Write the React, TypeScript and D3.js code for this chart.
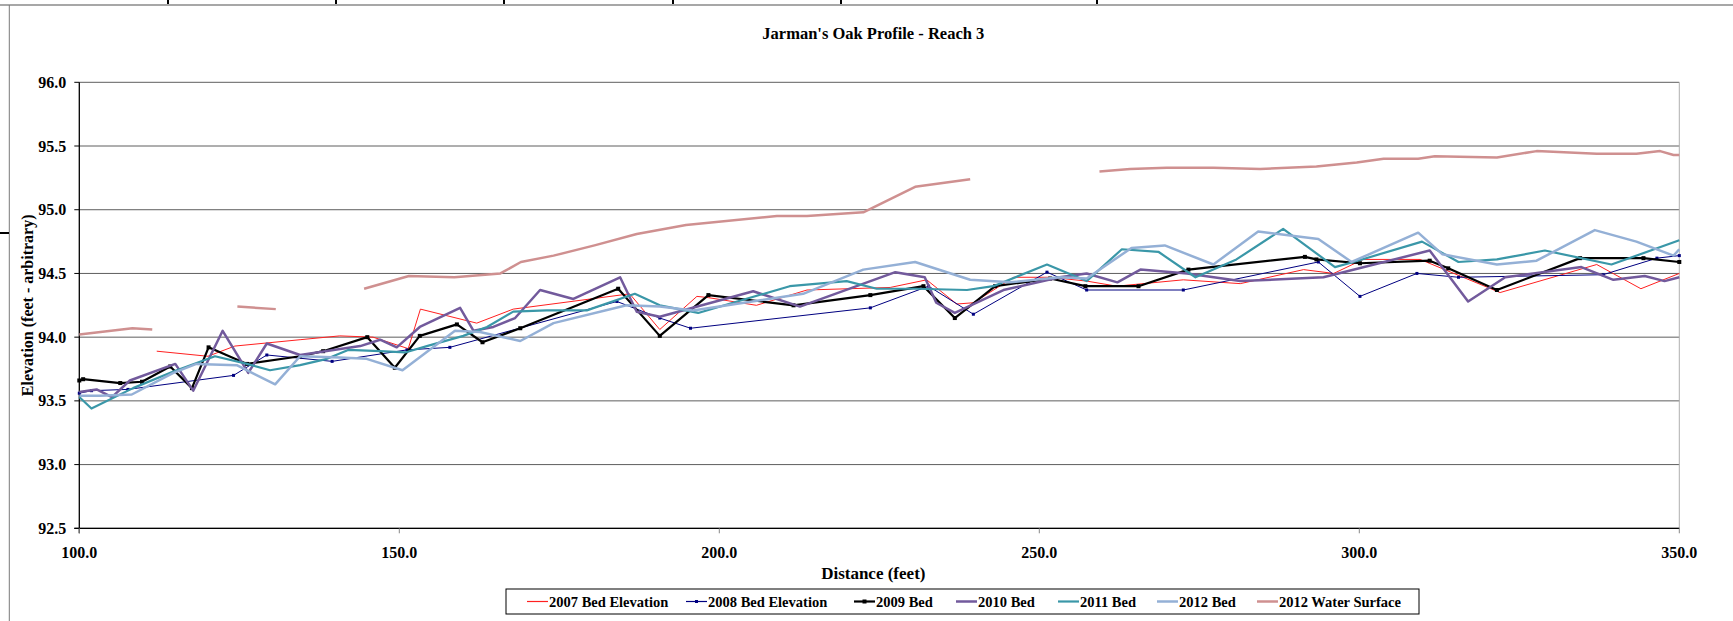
import React from "react";
import * as d3 from "d3";

const TITLE = "Jarman's Oak Profile - Reach 3";
const X_LABEL = "Distance (feet)";
const Y_LABEL = "Elevation (feet - arbitrary)";
const X_TICKS = [100, 150, 200, 250, 300, 350];
const Y_TICKS = [92.5, 93.0, 93.5, 94.0, 94.5, 95.0, 95.5, 96.0];

type Pt = [number, number] | null;

// distance (ft), elevation (ft)
const bed2007: Pt[] = [
  [112.1, 93.89], [120.1, 93.85], [124.3, 93.93], [134.5, 93.98], [140.7, 94.01],
  [145.9, 94.0], [151.4, 93.91], [153.3, 94.22], [162.1, 94.11], [167.8, 94.22],
  [186.0, 94.34], [190.7, 94.06], [196.5, 94.32], [198.3, 94.31], [205.8, 94.25],
  [213.7, 94.37], [226.7, 94.39], [232.4, 94.45], [237.1, 94.26], [239.7, 94.27],
  [246.0, 94.47], [251.7, 94.47], [257.4, 94.44], [262.1, 94.4], [272.5, 94.45],
  [281.4, 94.42], [291.3, 94.53], [296.0, 94.5], [300.6, 94.61], [309.5, 94.61],
  [322.0, 94.35], [337.1, 94.57], [344.0, 94.38], [350.0, 94.5],
];

const bed2008: Pt[] = [
  [100, 93.56], [101.9, 93.58], [107.6, 93.59], [124.1, 93.7], [129.3, 93.86],
  [139.5, 93.81], [151.2, 93.9], [157.9, 93.92], [184.0, 94.28], [190.7, 94.15],
  [195.5, 94.07], [223.6, 94.23], [232.7, 94.4], [239.7, 94.18], [251.2, 94.51],
  [257.4, 94.37], [272.5, 94.37], [293.6, 94.59], [300.1, 94.32], [309.0, 94.5],
  [315.5, 94.47], [338.1, 94.49], [346.5, 94.62], [350.0, 94.64],
];

const bed2009: Pt[] = [
  [100, 93.66], [100.6, 93.67], [106.4, 93.64], [109.8, 93.65], [114.2, 93.77],
  [117.6, 93.6], [120.2, 93.92], [126.2, 93.79], [134.5, 93.85], [138.1, 93.89],
  [145.0, 94.0], [149.3, 93.76], [153.2, 94.01], [159.0, 94.1], [163.0, 93.96],
  [168.9, 94.07], [184.2, 94.38], [190.7, 94.01], [198.3, 94.33], [211.6, 94.25],
  [223.6, 94.33], [231.9, 94.4], [236.8, 94.15], [243.1, 94.4], [251.7, 94.46],
  [257.2, 94.4], [265.5, 94.4], [273.3, 94.53], [291.5, 94.63], [293.3, 94.61],
  [300.1, 94.58], [311.0, 94.6], [313.9, 94.54], [321.5, 94.37], [334.5, 94.62],
  [344.4, 94.62], [350.0, 94.59],
];

const bed2010: Pt[] = [
  [100, 93.57], [102.7, 93.59], [105.1, 93.53], [107.9, 93.66], [115.0, 93.79],
  [117.8, 93.58], [122.4, 94.05], [126.4, 93.72], [129.3, 93.95], [134.5, 93.86],
  [143.9, 93.93], [147.0, 93.98], [149.6, 93.92], [153.2, 94.08], [159.5, 94.23],
  [161.6, 94.05], [164.7, 94.08], [168.1, 94.15], [172.0, 94.37], [177.2, 94.3],
  [184.5, 94.47], [187.1, 94.2], [190.7, 94.16], [205.3, 94.36], [212.6, 94.24],
  [227.5, 94.51], [232.1, 94.47], [233.9, 94.27], [236.8, 94.19], [244.4, 94.37],
  [253.2, 94.47], [257.4, 94.5], [262.2, 94.43], [265.8, 94.53], [273.1, 94.5],
  [281.4, 94.44], [294.4, 94.47], [311.0, 94.68], [317.0, 94.28], [322.8, 94.47],
  [334.7, 94.55], [339.7, 94.45], [344.6, 94.48], [347.7, 94.44], [350.0, 94.47],
];

const bed2011: Pt[] = [
  [100, 93.53], [101.9, 93.44], [108.4, 93.6], [114.7, 93.73], [121.2, 93.85],
  [126.2, 93.79], [129.8, 93.74], [134.5, 93.78], [138.7, 93.83], [142.0, 93.9],
  [147.0, 93.89], [150.9, 93.88], [154.3, 93.93], [160.0, 94.01], [163.7, 94.08],
  [167.8, 94.2], [173.0, 94.21], [179.3, 94.21], [186.8, 94.34], [190.7, 94.25],
  [196.7, 94.19], [211.0, 94.4], [219.9, 94.44], [224.6, 94.38], [230.8, 94.38],
  [238.7, 94.37], [242.8, 94.4], [251.2, 94.57], [257.4, 94.44], [262.9, 94.69],
  [268.6, 94.67], [274.4, 94.47], [280.8, 94.61], [288.1, 94.85], [296.2, 94.55],
  [299.1, 94.59], [309.8, 94.75], [315.5, 94.59], [321.5, 94.61], [329.0, 94.68],
  [339.4, 94.57], [350.0, 94.76],
];

const bed2012: Pt[] = [
  [100, 93.54], [103.2, 93.54], [108.2, 93.55], [114.7, 93.72], [118.3, 93.79],
  [124.6, 93.78], [130.6, 93.63], [134.5, 93.85], [140.7, 93.84], [144.9, 93.83],
  [150.5, 93.74], [158.7, 94.05], [162.6, 94.04], [168.9, 93.97], [174.1, 94.11],
  [185.5, 94.25], [190.7, 94.24], [195.9, 94.21], [206.4, 94.29], [213.1, 94.34],
  [222.5, 94.53], [230.6, 94.59], [239.2, 94.45], [245.5, 94.43], [253.2, 94.47],
  [257.4, 94.46], [264.4, 94.7], [269.6, 94.72], [277.2, 94.57], [284.2, 94.83],
  [293.6, 94.77], [298.8, 94.59], [309.2, 94.82], [313.0, 94.65], [321.5, 94.57],
  [327.7, 94.6], [336.8, 94.84], [343.3, 94.75], [349.1, 94.64], [350.0, 94.69],
];

// null marks a break in the surveyed water surface
const water2012: Pt[] = [
  [100, 94.02], [108.3, 94.07], [111.4, 94.06], null,
  [124.7, 94.24], [130.7, 94.22], null,
  [144.5, 94.38], [151.5, 94.48], [158.6, 94.47], [165.8, 94.5], [169.0, 94.59],
  [174.1, 94.64], [180.5, 94.72], [187.1, 94.81], [194.8, 94.88], [209.0, 94.95],
  [213.7, 94.95], [222.5, 94.98], [230.6, 95.18], [239.2, 95.24], null,
  [259.4, 95.3], [264.2, 95.32], [269.9, 95.33], [277.2, 95.33], [284.5, 95.32],
  [293.3, 95.34], [299.6, 95.37], [303.8, 95.4], [309.2, 95.4], [311.8, 95.42],
  [321.5, 95.41], [327.7, 95.46], [337.1, 95.44], [343.3, 95.44], [347.0, 95.46],
  [349.1, 95.43], [350.0, 95.43],
];

const SERIES = [
  { name: "2007 Bed Elevation", data: bed2007, color: "#ff2020", width: 1, marker: 0 },
  { name: "2008 Bed Elevation", data: bed2008, color: "#000080", width: 1, marker: 3 },
  { name: "2009 Bed", data: bed2009, color: "#000000", width: 2.2, marker: 4 },
  { name: "2010 Bed", data: bed2010, color: "#725a9c", width: 2.5, marker: 0 },
  { name: "2011 Bed", data: bed2011, color: "#3a97a8", width: 2.2, marker: 0 },
  { name: "2012 Bed", data: bed2012, color: "#94b0d6", width: 2.5, marker: 0 },
  { name: "2012 Water Surface", data: water2012, color: "#cf9090", width: 2.5, marker: 0 },
];

// legend item start positions (line sample left edge)
const LEGEND_X = [527, 686, 854, 956, 1058, 1157, 1257];
const SHEET_COLS = [168, 336, 504, 673, 841, 1097];

const W = 1733;
const H = 621;
const FONT = "'Liberation Serif', 'Times New Roman', serif";

export default function App() {
  const plot = { left: 79.3, right: 1679.3, top: 82.3, bottom: 528.3 };
  const x = d3.scaleLinear().domain([100, 350]).range([plot.left, plot.right]);
  const y = d3.scaleLinear().domain([92.5, 96]).range([plot.bottom, plot.top]);

  const line = d3
    .line<Pt>()
    .defined((d) => d !== null)
    .x((d) => x(d![0]))
    .y((d) => y(d![1]));

  const cx = (plot.left + plot.right) / 2 - 6;

  return (
    <svg
      width={W}
      height={H}
      style={{ position: "absolute", left: 0, top: 0, background: "#fff" }}
      fontFamily={FONT}
    >
      {/* spreadsheet strip behind the chart */}
      {SHEET_COLS.map((c) => (
        <line key={c} x1={c} x2={c} y1={0} y2={4} stroke="#000" strokeWidth={2} />
      ))}
      <line x1={0} x2={W} y1={5} y2={5} stroke="#8a8a8a" strokeWidth={1.5} />
      <line x1={9.3} x2={9.3} y1={5} y2={H} stroke="#7a7a7a" strokeWidth={1} />
      <line x1={0} x2={9} y1={233} y2={233} stroke="#000" strokeWidth={2} />

      {/* title */}
      <text x={cx} y={39} textAnchor="middle" fontWeight="bold" fontSize={16.5}>
        {TITLE}
      </text>

      {/* grid */}
      {Y_TICKS.map((t) => (
        <line
          key={t}
          x1={plot.left}
          x2={plot.right}
          y1={y(t)}
          y2={y(t)}
          stroke="#5e5e5e"
          strokeWidth={1}
        />
      ))}
      <line
        x1={plot.right}
        x2={plot.right}
        y1={plot.top}
        y2={plot.bottom}
        stroke="#b0b0b0"
        strokeWidth={1}
      />

      {/* axes */}
      <line x1={plot.left} x2={plot.left} y1={plot.top} y2={plot.bottom + 5} stroke="#000" strokeWidth={1.3} />
      <line x1={plot.left - 5} x2={plot.right} y1={plot.bottom} y2={plot.bottom} stroke="#000" strokeWidth={1.3} />
      {Y_TICKS.map((t) => (
        <g key={t}>
          <line x1={plot.left - 5} x2={plot.left} y1={y(t)} y2={y(t)} stroke="#000" />
          <text
            x={plot.left - 13}
            y={y(t)}
            dy="0.35em"
            textAnchor="end"
            fontWeight="bold"
            fontSize={16}
          >
            {t.toFixed(1)}
          </text>
        </g>
      ))}
      {X_TICKS.map((t) => (
        <g key={t}>
          <line x1={x(t)} x2={x(t)} y1={plot.bottom} y2={plot.bottom + 5} stroke="#888" />
          <text x={x(t)} y={558} textAnchor="middle" fontWeight="bold" fontSize={16}>
            {t.toFixed(1)}
          </text>
        </g>
      ))}

      {/* axis titles */}
      <text x={cx} y={579} textAnchor="middle" fontWeight="bold" fontSize={17}>
        {X_LABEL}
      </text>
      <text
        transform={`translate(33,${(plot.top + plot.bottom) / 2}) rotate(-90)`}
        textAnchor="middle"
        fontWeight="bold"
        fontSize={16}
      >
        {Y_LABEL}
      </text>

      {/* series */}
      {SERIES.map((s) => (
        <g key={s.name}>
          <path
            d={line(s.data) || ""}
            fill="none"
            stroke={s.color}
            strokeWidth={s.width}
            strokeLinejoin="round"
          />
          {s.marker > 0 &&
            s.data
              .filter((d): d is [number, number] => d !== null)
              .map((d, i) => (
                <rect
                  key={i}
                  x={x(d[0]) - s.marker / 2}
                  y={y(d[1]) - s.marker / 2}
                  width={s.marker}
                  height={s.marker}
                  fill={s.color}
                />
              ))}
        </g>
      ))}

      {/* legend */}
      <rect x={506} y={589} width={913} height={25} fill="#fff" stroke="#000" strokeWidth={1} />
      {SERIES.map((s, i) => {
        const lx = LEGEND_X[i];
        const ly = 601.5;
        return (
          <g key={s.name}>
            <line
              x1={lx}
              x2={lx + 21}
              y1={ly}
              y2={ly}
              stroke={s.color}
              strokeWidth={Math.max(1.2, s.width)}
            />
            {s.marker > 0 && (
              <rect
                x={lx + 10.5 - s.marker / 2}
                y={ly - s.marker / 2}
                width={s.marker}
                height={s.marker}
                fill={s.color}
              />
            )}
            <text x={lx + 22} y={ly} dy="0.35em" fontWeight="bold" fontSize={14.5}>
              {s.name}
            </text>
          </g>
        );
      })}
    </svg>
  );
}
